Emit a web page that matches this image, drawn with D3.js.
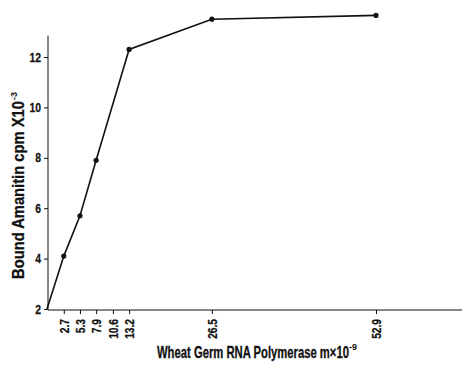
<!DOCTYPE html>
<html>
<head>
<meta charset="utf-8">
<script src="https://cdn.jsdelivr.net/npm/d3@7"></script>
<style>
  body { margin: 0; background: #fff; }
  svg text { font-family: "Liberation Sans", Arial, sans-serif; font-weight: bold; fill: #111; }
</style>
</head>
<body>
<svg id="chart" width="462" height="370"></svg>
<script>
// polymerase concentration (m x 10^-9) and bound amanitin (cpm x 10^-3)
var conc = [0, 2.7, 5.3, 7.9, 13.2, 26.5, 52.9];
var bound = [2.0, 4.1, 5.7, 7.9, 12.3, 13.5, 13.65];
var xTicks = [2.7, 5.3, 7.9, 10.6, 13.2, 26.5, 52.9];
var yTicks = [2, 4, 6, 8, 10, 12];

var svg = d3.select('#chart');
var ink = '#111';

var x = d3.scaleLinear().domain([0, 52.9]).range([47, 376]);
var y = d3.scaleLinear().domain([2, 12]).range([309, 57]);

// axes
var yAxis = svg.append('g')
    .attr('transform', 'translate(48,0)')
    .call(d3.axisLeft(y).tickValues(yTicks).tickSize(4).tickPadding(2).tickFormat(d3.format('d')));
yAxis.select('.domain').remove();
svg.append('line')
    .attr('x1', 48).attr('x2', 48)
    .attr('y1', y(12.85)).attr('y2', 310)
    .attr('stroke', ink).attr('stroke-width', 1);
yAxis.selectAll('text')
    .style('font-size', '13px')
    .attr('stroke', ink).attr('stroke-width', 0.25)
    .attr('transform', 'scale(0.8,1)')
    .attr('x', -7 / 0.8);

var xAxis = svg.append('g')
    .attr('transform', 'translate(0,310)')
    .call(d3.axisBottom(x).tickValues(xTicks).tickSize(4).tickFormat(d3.format('.1f')));
xAxis.select('.domain').remove();
svg.append('line')
    .attr('x1', 48).attr('x2', 462)
    .attr('y1', 310).attr('y2', 310)
    .attr('stroke', ink).attr('stroke-width', 1);
xAxis.selectAll('text')
    .style('font-size', '12px')
    .attr('stroke', ink).attr('stroke-width', 0.25)
    .attr('transform', 'rotate(-90) scale(0.85,1)')
    .attr('text-anchor', 'end')
    .attr('x', -9 / 0.85)
    .attr('y', 0)
    .attr('dy', '0.35em');
svg.selectAll('.tick line').attr('stroke', ink);

// data line and points
var line = d3.line()
    .x(function (d, i) { return x(conc[i]); })
    .y(function (d) { return y(d); });
svg.append('path')
    .attr('d', line(bound))
    .attr('fill', 'none')
    .attr('stroke', ink)
    .attr('stroke-width', 1.6);
svg.selectAll('.pt')
    .data(bound.slice(1))
    .enter().append('circle')
    .attr('class', 'pt')
    .attr('cx', function (d, i) { return x(conc[i + 1]); })
    .attr('cy', function (d) { return y(d); })
    .attr('r', 2.6)
    .attr('fill', ink);

// titles, squeezed to a narrow face
function narrow(sel, width) {
    var w = sel.node().getComputedTextLength();
    return width / w;
}
var yt = svg.append('text')
    .style('font-size', '16px')
    .attr('stroke', ink).attr('stroke-width', 0.3)
    .text('Bound Amanitin cpm X10');
yt.attr('transform', 'translate(24,279) rotate(-90) scale(' + narrow(yt, 178) + ',1)');
svg.append('text')
    .attr('transform', 'translate(17,100) rotate(-90)')
    .style('font-size', '9px')
    .text('-3');

var xt = svg.append('text')
    .style('font-size', '16px')
    .attr('stroke', ink).attr('stroke-width', 0.3)
    .text('Wheat Germ RNA Polymerase m\u00d710');
xt.attr('transform', 'translate(157,358) scale(' + narrow(xt, 192) + ',1)');
svg.append('text')
    .attr('x', 349).attr('y', 350)
    .style('font-size', '9px')
    .text('-9');
</script>
</body>
</html>
